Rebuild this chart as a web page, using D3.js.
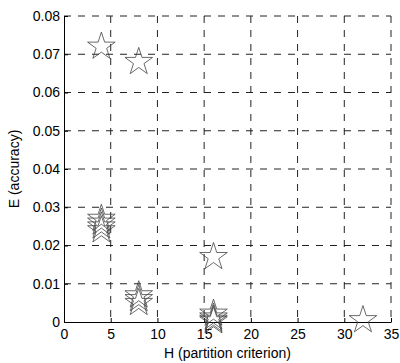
<!DOCTYPE html>
<html lang="en">
    <head>
        <meta charset="utf-8">
        <title>E vs H</title>
        <script type="text/javascript" src="https://d3js.org/d3.v7.min.js"></script>
        <style>
            body { margin: 0; background: #FFFFFF; }
            .tick text { font-family: "Liberation Sans", Arial, sans-serif; font-size: 14px; fill: #000; }
        </style>
    </head>
    <body>
        <script>
        // partition criterion H vs accuracy E
        const hValues = [4, 8, 4, 4, 4, 4, 8, 8, 8, 16, 16, 16, 16, 16, 32];
        const eValues = [0.072, 0.068, 0.027, 0.026, 0.025, 0.024, 0.007, 0.006, 0.005, 0.017, 0.0022, 0.0012, 0.0006, 0.0002, 0.0005];
        const xTicks = [0, 5, 10, 15, 20, 25, 30, 35];
        const yTicks = [0, 0.01, 0.02, 0.03, 0.04, 0.05, 0.06, 0.07, 0.08];

        const margin = {top: 16, right: 9, bottom: 41, left: 64},
            width = 400 - margin.left - margin.right,
            height = 363 - margin.top - margin.bottom;

        const svg = d3.select("body")
            .append("svg")
                .attr("width", 400)
                .attr("height", 363)
            .append("g")
                .attr("transform", `translate(${margin.left}, ${margin.top})`);

        const x = d3.scaleLinear().domain([0, 35]).range([0, width]);
        const y = d3.scaleLinear().domain([0, 0.08]).range([height, 0]);

        // grid
        svg.selectAll("vgrid")
            .data(xTicks.slice(1))
            .join("line")
            .attr("x1", d => x(d)).attr("x2", d => x(d))
            .attr("y1", 0).attr("y2", height)
            .attr("stroke", "#222")
            .attr("stroke-width", 1)
            .attr("stroke-dasharray", "7,7");
        svg.selectAll("hgrid")
            .data(yTicks.slice(1))
            .join("line")
            .attr("x1", 0).attr("x2", width)
            .attr("y1", d => y(d)).attr("y2", d => y(d))
            .attr("stroke", "#222")
            .attr("stroke-width", 1)
            .attr("stroke-dasharray", "7,7");

        // axes
        const xaxis = d3.axisBottom(x).tickValues(xTicks).tickSizeInner(-4).tickSizeOuter(0).tickPadding(7);
        svg.append("g")
            .attr("transform", `translate(0, ${height})`)
            .call(xaxis);
        const yaxis = d3.axisLeft(y).tickValues(yTicks).tickSizeInner(-4).tickSizeOuter(0).tickPadding(4)
            .tickFormat(d => d === 0 ? "0" : d3.format(".2f")(d));
        svg.append("g").call(yaxis);
        svg.selectAll(".domain").attr("stroke", "#000");

        // stars
        function star(cx, cy, R) {
            const r = R * 0.382;
            let pts = [];
            for (let i = 0; i < 10; i++) {
                const a = -Math.PI / 2 + i * Math.PI / 5;
                const rad = i % 2 === 0 ? R : r;
                pts.push([cx + rad * Math.cos(a), cy + rad * Math.sin(a)]);
            }
            return "M" + pts.map(p => p.join(",")).join("L") + "Z";
        }
        svg.selectAll("mystar")
            .data(hValues)
            .join("path")
            .attr("d", (d, i) => star(x(d), y(eValues[i]), 14.5))
            .attr("fill", "none")
            .attr("stroke", "#444")
            .attr("stroke-width", 0.8);

        // labels
        svg.append("text")
            .attr("x", width / 2)
            .attr("y", height + 36)
            .attr("text-anchor", "middle")
            .style("font-family", "Liberation Sans, Arial, sans-serif")
            .style("font-size", "14px")
            .text("H (partition criterion)");
        svg.append("text")
            .attr("transform", `translate(${-45}, ${height / 2}) rotate(-90)`)
            .attr("text-anchor", "middle")
            .style("font-family", "Liberation Sans, Arial, sans-serif")
            .style("font-size", "14px")
            .text("E (accuracy)");
        </script>
    </body>
</html>
